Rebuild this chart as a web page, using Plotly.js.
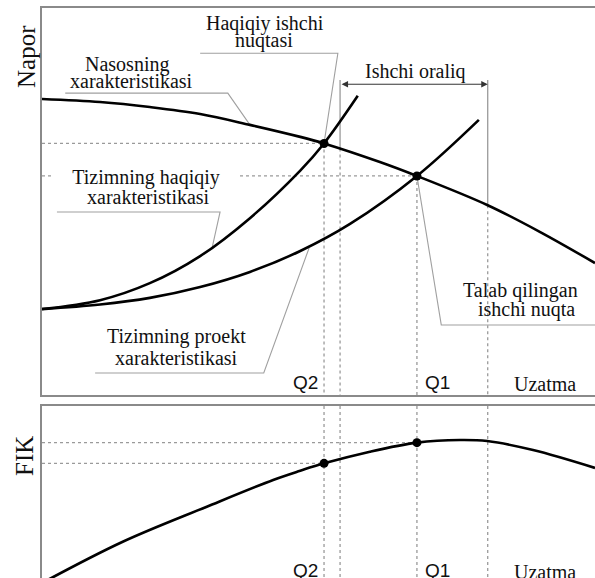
<!DOCTYPE html>
<html>
<head>
<meta charset="utf-8">
<script src="https://cdn.plot.ly/plotly-3.0.1.min.js"></script>
<style>
html,body{margin:0;padding:0;overflow:hidden;background:#fff;}
#chart{width:595px;height:590px;}
</style>
</head>
<body>
<div id="chart"></div>
<script>
// ---------- data (relative units: flow 0..100, head 0..100, efficiency 0..100) ----------
const pumpQ = [0, 10.5, 19.5, 28.6, 37.6, 46.7, 51.0, 61.1, 67.8, 80.5, 90.1, 100];
const pumpH = [76.5, 75.7, 74.4, 72.6, 69.8, 66.7, 65.0, 60.2, 56.6, 49.1, 42.1, 34.1];

const realQ = [0, 10.5, 19.5, 28.6, 37.6, 46.7, 51.0, 57.1];
const realH = [22.2, 24.5, 28.9, 35.9, 45.7, 58.0, 65.0, 77.3];

const designQ = [0, 10.5, 19.5, 28.6, 37.6, 46.7, 55.7, 67.8, 79.0];
const designH = [22.2, 23.4, 25.1, 27.9, 31.8, 37.2, 44.2, 56.6, 71.1];

const effQ = [0, 14.6, 29.8, 41.8, 46.7, 51.0, 59.3, 67.8, 75.6, 80.5, 88.8, 100];
const effV = [0, 23.3, 43.1, 58.2, 63.4, 67.6, 74.2, 79.3, 80.8, 80.2, 75.1, 65.0];

const opNames = ["Q2", "Q1"];
const opQ = [51.0, 67.8];      // actual (Q2) and required (Q1) flow
const opH = [65.0, 56.6];      // head at the operating points
const opEff = [67.6, 79.3];    // efficiency at the operating points

const rangeQ = [53.9, 80.6];   // working range (Ishchi oraliq)
const rangeHpump = [63.7, 49.0];
const rangeTopH = 81.4;
const rangeArrowH = 80.3;

// ---------- styles ----------
const dashStyle = {color: '#9a9a9a', width: 1.3, dash: '3px,3px'};
const leaderStyle = {color: '#a0a0a0', width: 1.1};
const curveStyle = {color: '#000', width: 2.6, shape: 'spline', smoothing: 1};
const serif = 'Liberation Serif, Times New Roman, serif';
const sans = 'Liberation Sans, Arial, sans-serif';
const txtColor = '#111';

const traces = [];
function seg(xs, ys, line, xa, ya) {
  traces.push({x: xs, y: ys, mode: 'lines', line: line, xaxis: xa || 'x', yaxis: ya || 'y', hoverinfo: 'skip', showlegend: false});
}

// dashed guides, top panel
for (let i = 0; i < 2; i++) {
  seg([0, opQ[i]], [opH[i], opH[i]], dashStyle);
  seg([opQ[i], opQ[i]], [opH[i], 0], dashStyle);
}
// working range verticals: solid above pump curve, dashed below
for (let i = 0; i < 2; i++) {
  seg([rangeQ[i], rangeQ[i]], [rangeTopH, rangeHpump[i]], {color: '#9a9a9a', width: 1.3});
  seg([rangeQ[i], rangeQ[i]], [rangeHpump[i], 0], dashStyle);
}
// dashed guides, bottom panel
for (let i = 0; i < 2; i++) {
  seg([0, opQ[i]], [opEff[i], opEff[i]], dashStyle, 'x2', 'y2');
  seg([opQ[i], opQ[i]], [0, 100], dashStyle, 'x2', 'y2');
  seg([rangeQ[i], rangeQ[i]], [0, 100], dashStyle, 'x2', 'y2');
}

// leader lines (label underline + pointer)
const leaders = [
  {x: [28.6, 53.5, opQ[0]], y: [88.3, 88.3, opH[0]]},
  {x: [4.2, 33.6, 37.6], y: [78.0, 78.0, 69.8]},
  {x: [2.7, 32.2, 30.8], y: [47.3, 47.3, 38.3]},
  {x: [9.6, 40.1, 48.3], y: [5.7, 5.7, 38.0]},
  {x: [100, 72.2, opQ[1]], y: [18.1, 18.1, opH[1]]}
];
leaders.forEach(l => seg(l.x, l.y, leaderStyle));

// curves
traces.push({x: pumpQ, y: pumpH, mode: 'lines', line: curveStyle, hoverinfo: 'skip', showlegend: false});
traces.push({x: realQ, y: realH, mode: 'lines', line: curveStyle, hoverinfo: 'skip', showlegend: false});
traces.push({x: designQ, y: designH, mode: 'lines', line: curveStyle, hoverinfo: 'skip', showlegend: false});
traces.push({x: effQ, y: effV, mode: 'lines', line: curveStyle, xaxis: 'x2', yaxis: 'y2', hoverinfo: 'skip', showlegend: false});

// operating point markers
traces.push({x: opQ, y: opH, mode: 'markers', marker: {color: '#000', size: 9}, hoverinfo: 'skip', showlegend: false});
traces.push({x: opQ, y: opEff, mode: 'markers', marker: {color: '#000', size: 9}, xaxis: 'x2', yaxis: 'y2', hoverinfo: 'skip', showlegend: false});

// ---------- annotations ----------
function lab(text, x, y, opts) {
  return Object.assign({text: text, x: x, y: y, xref: 'x', yref: 'y', showarrow: false,
    xanchor: 'center', yanchor: 'middle', font: {family: serif, size: 20, color: txtColor}}, opts || {});
}
const annotations = [
  lab('Tizimning haqiqiy', 18.8, 56.1, {bgcolor: '#fff', width: 184}),
  lab('xarakteristikasi', 19.2, 51.2),
  lab('Haqiqiy ishchi', 40.3, 95.9),
  lab('nuqtasi', 40.1, 91.5),
  lab('Nasosning', 15.4, 85.5),
  lab('xarakteristikasi', 16.1, 81.1),
  lab('Tizimning proekt', 24.4, 15.2),
  lab('xarakteristikasi', 24.4, 9.6),
  lab('Talab qilingan', 86.6, 27.1),
  lab('ishchi nuqta', 87.7, 22.0),
  lab('Ishchi oraliq', 67.6, 83.5),
  lab(opNames[0], 47.7, 3.3, {font: {family: sans, size: 19, color: txtColor}}),
  lab(opNames[1], 71.5, 3.3, {font: {family: sans, size: 19, color: txtColor}}),
  lab('Uzatma', 91.0, 2.8),
  lab(opNames[0], 47.7, 7.1, {xref: 'x2', yref: 'y2', font: {family: sans, size: 19, color: txtColor}}),
  lab(opNames[1], 71.5, 7.1, {xref: 'x2', yref: 'y2', font: {family: sans, size: 19, color: txtColor}}),
  lab('Uzatma', 91.0, 6.2, {xref: 'x2', yref: 'y2'}),
  {text: 'Napor', xref: 'paper', yref: 'paper', x: -0.029, y: 0.9165, showarrow: false, textangle: -90,
   xanchor: 'center', yanchor: 'middle', font: {family: serif, size: 25, color: txtColor}},
  {text: 'FIK', xref: 'paper', yref: 'paper', x: -0.0307, y: 0.2209, showarrow: false, textangle: -90,
   xanchor: 'center', yanchor: 'middle', font: {family: serif, size: 25, color: txtColor}},
  // working range double arrow
  {text: '', x: rangeQ[1], y: rangeArrowH, ax: rangeQ[0], ay: rangeArrowH, xref: 'x', yref: 'y',
   axref: 'x', ayref: 'y', showarrow: true, arrowhead: 2, startarrowhead: 2, arrowside: 'end+start',
   arrowsize: 1.3, startarrowsize: 1.3, arrowwidth: 1, arrowcolor: '#333', standoff: 0, startstandoff: 0}
];

const axLine = {showline: true, linecolor: '#8a8a8a', linewidth: 1.6, showgrid: false, zeroline: false,
  showticklabels: false, ticks: '', fixedrange: true};

const layout = {
  width: 595, height: 590,
  margin: {l: 42, r: 0, t: 8, b: 7},
  paper_bgcolor: '#fff', plot_bgcolor: '#fff',
  showlegend: false,
  xaxis: Object.assign({}, axLine, {domain: [0, 1], range: [0, 100], anchor: 'y', mirror: true}),
  yaxis: Object.assign({}, axLine, {domain: [0.32696, 1], range: [0, 100], anchor: 'x'}),
  xaxis2: Object.assign({}, axLine, {domain: [0, 1], range: [0, 100], anchor: 'y2', side: 'top'}),
  yaxis2: Object.assign({}, axLine, {domain: [0, 0.30783], range: [0, 100], anchor: 'x2'}),
  annotations: annotations
};

Plotly.newPlot('chart', traces, layout, {staticPlot: true, displayModeBar: false});
</script>
</body>
</html>
